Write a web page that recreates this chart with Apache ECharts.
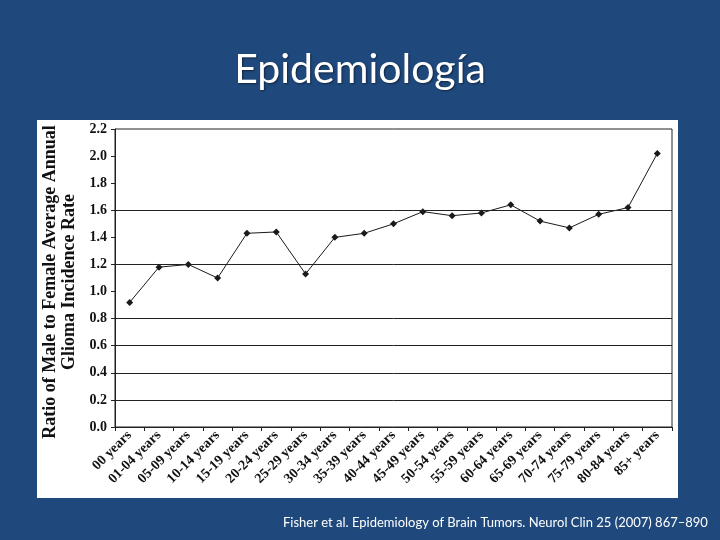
<!DOCTYPE html>
<html>
<head>
<meta charset="utf-8">
<script src="https://cdn.jsdelivr.net/npm/echarts@6/dist/echarts.min.js"></script>
<style>
  html, body { margin: 0; padding: 0; background: #1f497d; }
  #main { width: 720px; height: 540px; }
</style>
</head>
<body>
<div id="main"></div>
<script>
// age groups on the x axis
var ageGroups = ['00 years', '01-04 years', '05-09 years', '10-14 years', '15-19 years',
  '20-24 years', '25-29 years', '30-34 years', '35-39 years', '40-44 years',
  '45-49 years', '50-54 years', '55-59 years', '60-64 years', '65-69 years',
  '70-74 years', '75-79 years', '80-84 years', '85+ years'];
// male to female ratio
var ratio = [0.92, 1.18, 1.20, 1.10, 1.43, 1.44, 1.13, 1.40, 1.43, 1.50,
  1.59, 1.56, 1.58, 1.64, 1.52, 1.47, 1.57, 1.62, 2.02];
// horizontal lines that are drawn in the original
var gridValues = [0.2, 0.4, 0.6, 0.8, 1.2, 1.6];

var serif = '"Liberation Serif", "DejaVu Serif", serif';

var myChart = echarts.init(document.getElementById('main'));
myChart.setOption({
  backgroundColor: '#1f497d',
  animation: false,
  title: {
    text: 'Epidemiología',
    left: 'center',
    top: 44,
    textStyle: {
      color: '#fff',
      fontFamily: 'Lato, "Open Sans", sans-serif',
      fontWeight: 'normal',
      fontSize: 41,
      textShadowColor: 'rgba(0,0,0,0.5)',
      textShadowBlur: 2,
      textShadowOffsetX: 1,
      textShadowOffsetY: 1
    }
  },
  graphic: [
    {
      type: 'rect',
      z: -10,
      shape: { x: 37, y: 120, width: 641, height: 378 },
      style: { fill: '#fff' }
    },
    {
      type: 'text',
      left: 283,
      top: 516,
      style: {
        text: 'Fisher et al. Epidemiology of Brain Tumors. Neurol Clin 25 (2007) 867\u2013890',
        fill: '#fff',
        font: '13px Lato, "Open Sans", sans-serif'
      }
    }
  ],
  grid: {
    left: 115,
    right: 48,
    top: 129,
    bottom: 113,
    show: true,
    borderColor: '#222',
    borderWidth: 1,
    backgroundColor: 'transparent'
  },
  xAxis: {
    type: 'category',
    data: ageGroups,
    boundaryGap: true,
    axisLine: { lineStyle: { color: '#222', width: 1 } },
    axisTick: { show: true, length: 4, lineStyle: { color: '#222' } },
    axisLabel: {
      interval: 0,
      rotate: 45,
      margin: 6,
      color: '#111',
      fontFamily: serif,
      fontWeight: 'bold',
      fontSize: 14
    },
    splitLine: { show: false }
  },
  yAxis: {
    type: 'value',
    min: 0,
    max: 2.2,
    interval: 0.2,
    name: 'Ratio of Male to Female Average Annual\nGlioma Incidence Rate',
    nameLocation: 'middle',
    nameRotate: 90,
    nameGap: 35,
    nameTextStyle: {
      color: '#111',
      fontFamily: serif,
      fontWeight: 'bold',
      fontSize: 18,
      lineHeight: 19,
      padding: [0, 8, 0, 0]
    },
    axisLine: { show: true, lineStyle: { color: '#222', width: 1 } },
    axisTick: { show: true, length: 4, lineStyle: { color: '#222' } },
    axisLabel: {
      margin: 8,
      color: '#111',
      fontFamily: serif,
      fontWeight: 'bold',
      fontSize: 14,
      formatter: function (v) { return v.toFixed(1); }
    },
    splitLine: { show: false }
  },
  series: [{
    type: 'line',
    data: ratio,
    symbol: 'diamond',
    symbolSize: 7,
    itemStyle: { color: '#1a1a1a' },
    lineStyle: { color: '#1a1a1a', width: 1 },
    markLine: {
      silent: true,
      symbol: 'none',
      label: { show: false },
      lineStyle: { color: '#222', width: 1, type: 'solid' },
      data: gridValues.map(function (v) { return { yAxis: v }; })
    }
  }]
});
</script>
</body>
</html>
